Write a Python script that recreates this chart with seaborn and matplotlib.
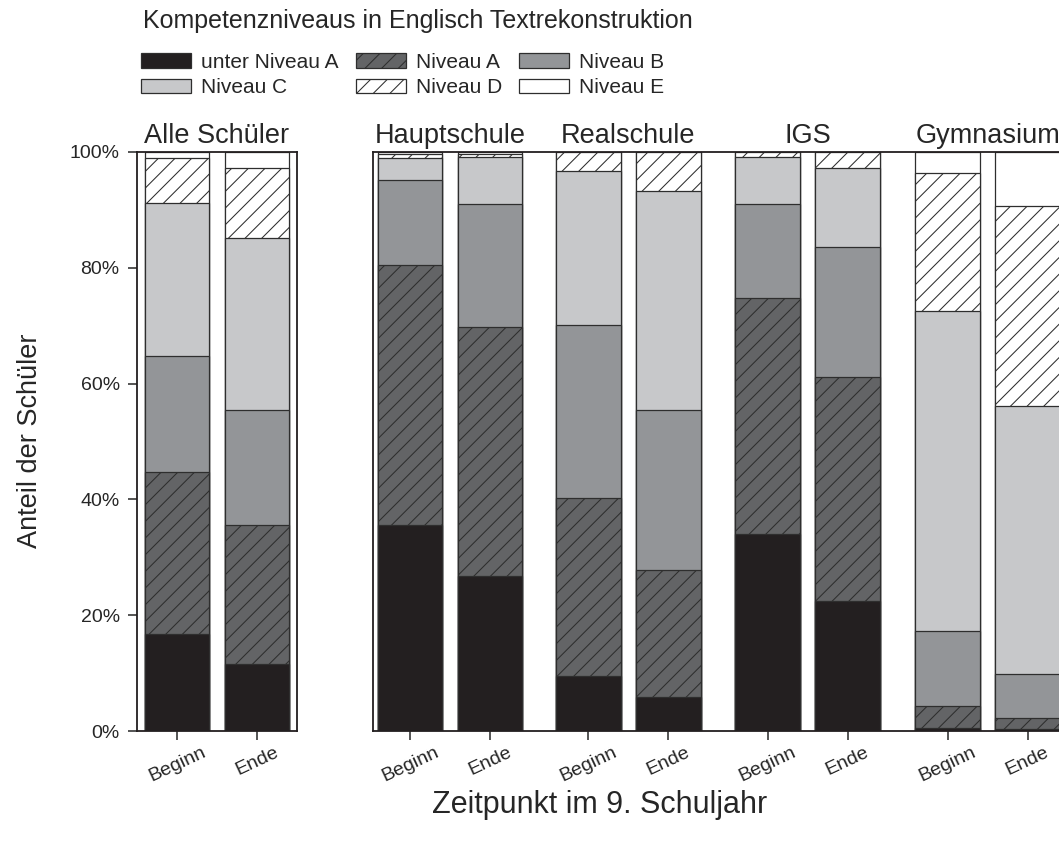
import matplotlib
matplotlib.use("Agg")
import numpy as np
import pandas as pd
import matplotlib.pyplot as plt
from matplotlib.patches import Patch
import seaborn as sns

# ---------------------------------------------------------------------------
# Data (percent of students per competence level)
# ---------------------------------------------------------------------------

LEVELS = ["unter Niveau A", "Niveau A", "Niveau B", "Niveau C", "Niveau D", "Niveau E"]
TIMES = ["Beginn", "Ende"]
GROUPS = ["Alle Schüler", "Hauptschule", "Realschule", "IGS", "Gymnasium"]

# one list per group: [Beginn, Ende], each with the 6 level shares
alle_schueler = [[16.7, 28.0, 20.1, 26.4, 7.8, 1.0],
                 [11.6, 24.0, 19.8, 29.7, 12.1, 2.8]]
hauptschule = [[35.6, 44.9, 14.7, 3.8, 0.7, 0.3],
               [26.8, 43.0, 21.2, 8.1, 0.6, 0.3]]
realschule = [[9.5, 30.7, 29.9, 26.6, 3.3, 0.0],
              [5.9, 21.9, 27.6, 37.9, 6.7, 0.0]]
igs = [[34.0, 40.8, 16.2, 8.2, 0.8, 0.0],
       [22.5, 38.6, 22.5, 13.6, 2.8, 0.0]]
gymnasium = [[0.5, 3.9, 12.9, 55.2, 23.9, 3.6],
             [0.3, 2.0, 7.6, 46.2, 34.6, 9.3]]

# ---------------------------------------------------------------------------
# Style
# ---------------------------------------------------------------------------

FILLS = ["#231f20", "#636466", "#939598", "#c7c8ca", "white", "white"]
HATCHES = [None, "//", None, None, "//", None]
EDGE = "#2e2e2e"
BAR_W = 0.81

sns.set_theme(style="ticks")
plt.rcParams["font.family"] = ["Liberation Sans", "DejaVu Sans"]
plt.rcParams["hatch.linewidth"] = 0.75
plt.rcParams["hatch.color"] = "#1a1a1a"
plt.rcParams["axes.edgecolor"] = "#231f20"
plt.rcParams["axes.linewidth"] = 1.3


def build_frame(groups, data, positions):
    rows = []
    k = 0
    for g, vals in zip(groups, data):
        for t, shares in zip(TIMES, vals):
            cum = np.cumsum(shares)
            row = {"group": g, "time": t, "pos": positions[k]}
            for lvl, c in zip(LEVELS, cum):
                row[lvl] = c
            rows.append(row)
            k += 1
    return pd.DataFrame(rows)


def draw_stack(ax, df):
    # draw cumulative bars from the top level down so lower levels overlay
    for i in reversed(range(len(LEVELS))):
        sns.barplot(
            data=df, x="pos", y=LEVELS[i], native_scale=True, ax=ax,
            color=FILLS[i], saturation=1, width=BAR_W, errorbar=None,
            edgecolor=EDGE, linewidth=0.9, hatch=HATCHES[i],
        )
    ax.set_ylim(0, 100)
    ax.set_xticks(df["pos"])
    ax.set_xticklabels(df["time"], rotation=25, ha="center", fontsize=14)
    ax.set_xlabel("")
    ax.set_ylabel("")
    ax.tick_params(axis="x", length=6.5, width=1.1, direction="out", pad=3)
    for s in ax.spines.values():
        s.set_visible(True)


W, H = 1059, 841
fig = plt.figure(figsize=(W / 100, H / 100), dpi=100)

ax_l = fig.add_axes([137 / W, 110 / H, 160 / W, 579 / H])
ax_r = fig.add_axes([373 / W, 110 / H, 701 / W, 579 / H])

left_pos = [0, 1]
right_pos = [0, 1, 2.23, 3.23, 4.47, 5.47, 6.72, 7.72]

df_l = build_frame(GROUPS[:1], [alle_schueler], left_pos)
df_r = build_frame(GROUPS[1:], [hauptschule, realschule, igs, gymnasium], right_pos)

draw_stack(ax_l, df_l)
draw_stack(ax_r, df_r)

ax_l.set_xlim(-0.5, 1.5)
ax_r.set_xlim(-0.4625, 8.3)

ax_l.set_yticks([0, 20, 40, 60, 80, 100])
ax_l.set_yticklabels(["0%", "20%", "40%", "60%", "80%", "100%"], fontsize=14)
ax_l.tick_params(axis="y", length=6.5, width=1.1, direction="out", pad=6)
ax_r.set_yticks([])

# group titles above each pair of bars
ax_l.text(0.5, 1.006, GROUPS[0], transform=ax_l.get_xaxis_transform(),
          ha="center", va="bottom", fontsize=19.5)
for j, g in enumerate(GROUPS[1:]):
    xc = (right_pos[2 * j] + right_pos[2 * j + 1]) / 2
    ax_r.text(xc, 1.006, g, transform=ax_r.get_xaxis_transform(),
              ha="center", va="bottom", fontsize=19.5)

fig.text(30 / W, (H - 441) / H, "Anteil der Schüler", rotation=90,
         ha="center", va="center", fontsize=19.5)
fig.text(600 / W, (H - 805) / H, "Zeitpunkt im 9. Schuljahr",
         ha="center", va="center", fontsize=22)

# legend
fig.text(143 / W, (H - 21) / H, "Kompetenzniveaus in Englisch Textrekonstruktion",
         ha="left", va="center", fontsize=18)
handles = [Patch(facecolor=FILLS[i], edgecolor=EDGE, hatch=HATCHES[i], linewidth=0.9,
                 label=LEVELS[i]) for i in range(len(LEVELS))]
order = [0, 3, 1, 4, 2, 5]
fig.legend([handles[i] for i in order], [LEVELS[i] for i in order],
           loc="upper left", bbox_to_anchor=(141 / W, (H - 53) / H), ncol=3,
           frameon=False, fontsize=15, handlelength=2.4, handleheight=0.72,
           handletextpad=0.5, columnspacing=0.8, labelspacing=0.3,
           borderpad=0, borderaxespad=0)

fig.savefig("out.png", dpi=100)
